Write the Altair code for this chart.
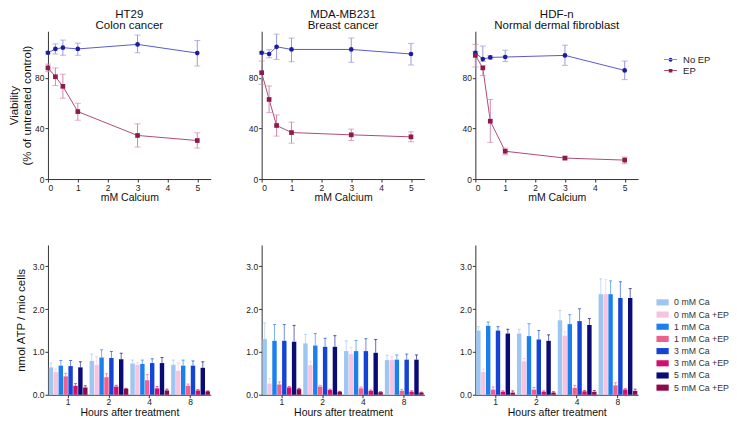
import altair as alt
import pandas as pd

# ---------------- data: viability (top row) ----------------
calcium = [0, 0.25, 0.5, 1, 3, 5]
groups = ["No EP", "EP"]

ht29_noep = [100, 103, 104, 103, 106.6, 99.7]
ht29_noep_hi = [101, 107, 110, 107.6, 114, 109.7]
ht29_noep_lo = [99, 99, 98, 98, 100, 89.5]
ht29_ep = [88, 81, 73.4, 53.4, 34.5, 30.5]
ht29_ep_hi = [91, 88, 83, 60, 43.7, 36.6]
ht29_ep_lo = [85, 74, 64, 46.6, 25.3, 24.5]

mda_noep = [100, 99, 104.7, 102.6, 102.6, 99]
mda_noep_hi = [101, 102.4, 114.7, 111.6, 111.6, 107.4]
mda_noep_lo = [99, 96, 94.7, 92.9, 92.4, 90.3]
mda_ep = [84.2, 63, 42.4, 36.8, 35, 33.4]
mda_ep_hi = [93.4, 73.7, 50.8, 45, 39.5, 37.4]
mda_ep_lo = [75, 52.6, 34, 28.4, 30.5, 29.5]

hdf_noep = [100, 95, 96.3, 96.6, 97.9, 86]
hdf_noep_hi = [101, 105.3, 97.6, 102, 106, 93.4]
hdf_noep_lo = [99, 93, 95, 93, 90, 78.7]
hdf_ep = [97.9, 88, 45.8, 22, 16.6, 15]
hdf_ep_hi = [106.6, 89.5, 63, 24.5, 17.9, 17.4]
hdf_ep_lo = [88.7, 82, 29, 19.2, 15.3, 12.1]

cell_titles = [["HT29", "Colon cancer"], ["MDA-MB231", "Breast cancer"],
               ["HDF-n", "Normal dermal fibroblast"]]

# ---------------- data: ATP (bottom row) ----------------
hours = ["1", "2", "4", "8"]
series = ["0 mM Ca", "0 mM Ca +EP", "1 mM Ca", "1 mM Ca +EP",
          "3 mM Ca", "3 mM Ca +EP", "5 mM Ca", "5 mM Ca +EP"]
series_colors = ["#9dc6f2", "#f8c3df", "#1b80ee", "#f0608f",
                 "#1444d6", "#d2106c", "#0b0b78", "#8c0a4c"]

ht29_atp = [[0.64, 0.79, 0.73, 0.70], [0.53, 0.70, 0.70, 0.56],
            [0.68, 0.87, 0.72, 0.68], [0.43, 0.41, 0.34, 0.21],
            [0.67, 0.86, 0.74, 0.68], [0.21, 0.19, 0.15, 0.10],
            [0.64, 0.83, 0.74, 0.63], [0.17, 0.14, 0.10, 0.08]]
ht29_atp_top = [[0.74, 0.95, 0.81, 0.81], [0.60, 0.89, 0.75, 0.74],
                [0.80, 1.05, 0.81, 0.81], [0.50, 0.49, 0.47, 0.25],
                [0.80, 1.01, 0.84, 0.79], [0.26, 0.22, 0.19, 0.12],
                [0.77, 0.97, 0.87, 0.77], [0.21, 0.15, 0.13, 0.09]]

mda_atp = [[1.30, 1.20, 1.02, 0.81], [0.26, 0.69, 0.95, 0.81],
           [1.26, 1.15, 1.02, 0.82], [0.24, 0.19, 0.15, 0.09],
           [1.26, 1.12, 1.02, 0.82], [0.17, 0.11, 0.09, 0.07],
           [1.24, 1.12, 0.98, 0.82], [0.13, 0.07, 0.06, 0.05]]
mda_atp_top = [[1.68, 1.41, 1.26, 0.92], [0.38, 0.78, 1.11, 0.89],
               [1.64, 1.43, 1.27, 0.93], [0.30, 0.22, 0.18, 0.12],
               [1.64, 1.32, 1.31, 0.95], [0.19, 0.13, 0.11, 0.09],
               [1.62, 1.38, 1.29, 0.93], [0.15, 0.08, 0.07, 0.06]]

hdf_atp = [[1.50, 1.43, 1.74, 2.35], [0.53, 0.78, 1.38, 2.35],
           [1.61, 1.37, 1.65, 2.35], [0.12, 0.12, 0.16, 0.22],
           [1.50, 1.29, 1.72, 2.26], [0.07, 0.07, 0.08, 0.12],
           [1.43, 1.26, 1.63, 2.26], [0.05, 0.05, 0.07, 0.09]]
hdf_atp_top = [[1.59, 1.53, 1.97, 2.71], [0.60, 0.85, 1.47, 2.69],
               [1.70, 1.66, 1.87, 2.66], [0.18, 0.17, 0.22, 0.28],
               [1.59, 1.50, 2.01, 2.64], [0.09, 0.09, 0.10, 0.14],
               [1.53, 1.40, 1.78, 2.48], [0.09, 0.07, 0.10, 0.13]]

FONT = "Liberation Sans"
DOT_COLORS = ["#1c1ca0", "#8e1a4c"]
LINE_COLORS = ["#5a5acc", "#b04a7c"]
ERR_COLORS = ["#9a9ad8", "#d08aae"]

W = 163
TOP_H = 148
BOT_H = 150

# legend symbols: a thin line with a dot / square on it
CIRC = ("M-1,-0.05H1V0.05H-1Z"
        "M-0.3,0A0.3,0.3 0 1,0 0.3,0A0.3,0.3 0 1,0 -0.3,0Z")
SQR = "M-1,-0.05H1V0.05H-1ZM-0.28,-0.28H0.28V0.28H-0.28Z"


def top_df(noep, noep_hi, noep_lo, ep, ep_hi, ep_lo):
    rows = []
    for g, m, hi, lo in [("No EP", noep, noep_hi, noep_lo), ("EP", ep, ep_hi, ep_lo)]:
        for c, a, b, d in zip(calcium, m, hi, lo):
            rows.append({"ca": c, "grp": g, "mean": a, "hi": b, "lo": d})
    return pd.DataFrame(rows)


def cond(colors):
    return alt.condition("datum.grp === 'EP'", alt.value(colors[1]), alt.value(colors[0]))


def top_panel(df, title, first, last):
    x = alt.X("ca:Q", scale=alt.Scale(domain=[0, 5.45], nice=False, zero=False),
              axis=alt.Axis(values=[0, 1, 2, 3, 4, 5], title="mM Calcium",
                            titlePadding=1))
    yaxis = alt.Axis(values=[0, 20, 40, 60, 80, 100],
                     title=["Viability", "(% of untreated control)"] if first else None,
                     titlePadding=2, titleFontSize=11.5)
    y = alt.Y("mean:Q", scale=alt.Scale(domain=[0, 117], nice=False), axis=yaxis)
    base = alt.Chart(df)
    line = base.mark_line(strokeWidth=1).encode(
        x=x, y=y, detail="grp:N", color=cond(LINE_COLORS))
    err = base.mark_rule(strokeWidth=1).encode(
        x=x, y=alt.Y("lo:Q"), y2="hi:Q", color=cond(ERR_COLORS))
    caps = base.transform_fold(["hi", "lo"], as_=["k", "v"]).mark_tick(
        orient="horizontal", size=6, thickness=1).encode(
        x=x, y=alt.Y("v:Q"), color=cond(ERR_COLORS))
    circ = base.transform_filter("datum.grp === 'No EP'").mark_point(
        filled=True, size=22, opacity=1, shape="circle", color=DOT_COLORS[0]).encode(x=x, y=y)
    sq = base.transform_filter("datum.grp === 'EP'").mark_point(
        filled=True, size=22, opacity=1, shape="square", color=DOT_COLORS[1]).encode(x=x, y=y)
    layers = [line, err, caps, circ, sq]
    if last:
        leg = alt.Legend(
            title=None, orient="none", legendX=189, legendY=22,
            labelFontSize=9.5, labelColor="#222", labelFont=FONT,
            symbolSize=169, labelOffset=6, rowPadding=0, symbolStrokeWidth=0)
        legend_layer = base.transform_filter("false").mark_point(
            filled=True, opacity=1, size=169).encode(
            x=x, y=y,
            color=alt.Color("grp:N", scale=alt.Scale(domain=groups, range=DOT_COLORS),
                            legend=leg),
            shape=alt.Shape("grp:N", scale=alt.Scale(domain=groups, range=[CIRC, SQR]),
                            legend=leg))
        layers.append(legend_layer)
    return alt.layer(*layers).properties(
        width=W, height=TOP_H,
        title=alt.TitleParams(title, fontSize=11.5, fontWeight="normal", font=FONT,
                              color="#111", offset=0, lineHeight=11))


def bot_df(vals, tops):
    rows = []
    for s, vs, ts in zip(series, vals, tops):
        for h, v, t in zip(hours, vs, ts):
            rows.append({"hours": h, "series": s, "mean": v, "top": t})
    return pd.DataFrame(rows)


def bot_panel(df, first, last):
    if last:
        leg = alt.Legend(title=None, orient="none", legendX=181, legendY=51,
                         labelFontSize=8.8, labelColor="#333", labelFont=FONT,
                         symbolType="M-1,-0.5H1V0.5H-1Z", symbolSize=150,
                         symbolStrokeWidth=0, symbolOpacity=1,
                         labelOffset=5, rowPadding=0.2)
    else:
        leg = None
    color = alt.Color("series:N", scale=alt.Scale(domain=series, range=series_colors),
                      legend=leg)
    x = alt.X("hours:N", sort=hours,
              scale=alt.Scale(paddingInner=0.05, paddingOuter=0.02),
              axis=alt.Axis(labelAngle=0, title="Hours after treatment",
                            titlePadding=1, labelPadding=0))
    xo = alt.XOffset("series:N", sort=series, scale=alt.Scale(paddingInner=0.1))
    yaxis = alt.Axis(values=[0, 0.5, 1, 1.5, 2, 2.5, 3, 3.5], format=".1f",
                     title="nmol ATP / mio cells" if first else None,
                     titlePadding=6, titleFontSize=11.5)
    y = alt.Y("mean:Q", scale=alt.Scale(domain=[0, 3.5], nice=False), axis=yaxis)
    base = alt.Chart(df)
    bars = base.mark_bar().encode(x=x, xOffset=xo, y=y, color=color)
    err = base.mark_rule(strokeWidth=1, strokeOpacity=0.6).encode(
        x=x, xOffset=xo, y=alt.Y("mean:Q"), y2="top:Q", color=color)
    cap = base.mark_tick(orient="horizontal", size=3, thickness=1, strokeOpacity=0.6).encode(
        x=x, xOffset=xo, y=alt.Y("top:Q"), color=color)
    return alt.layer(bars, err, cap).properties(width=W, height=BOT_H)


panels = [
    top_panel(top_df(ht29_noep, ht29_noep_hi, ht29_noep_lo, ht29_ep, ht29_ep_hi, ht29_ep_lo),
              cell_titles[0], True, False),
    top_panel(top_df(mda_noep, mda_noep_hi, mda_noep_lo, mda_ep, mda_ep_hi, mda_ep_lo),
              cell_titles[1], False, False),
    top_panel(top_df(hdf_noep, hdf_noep_hi, hdf_noep_lo, hdf_ep, hdf_ep_hi, hdf_ep_lo),
              cell_titles[2], False, True),
    bot_panel(bot_df(ht29_atp, ht29_atp_top), True, False),
    bot_panel(bot_df(mda_atp, mda_atp_top), False, False),
    bot_panel(bot_df(hdf_atp, hdf_atp_top), False, True),
]

chart = alt.concat(*panels, columns=3, spacing={"row": 66, "column": 51},
                   bounds="flush").resolve_scale(
    color="independent", shape="independent"
).properties(
    padding={"left": 0, "top": 0, "right": 0, "bottom": 0},
    background="white",
).configure_view(stroke=None).configure_axis(
    grid=False, domainColor="#333", tickColor="#333", labelColor="#222",
    labelFont=FONT, titleFont=FONT, labelFontSize=8.5, titleFontSize=10.5,
    titleFontWeight="normal", titleColor="#111", tickSize=3, labelPadding=1,
).configure_legend(labelFont=FONT)

chart.save("out.html", embed_options={"renderer": "svg", "actions": False})
